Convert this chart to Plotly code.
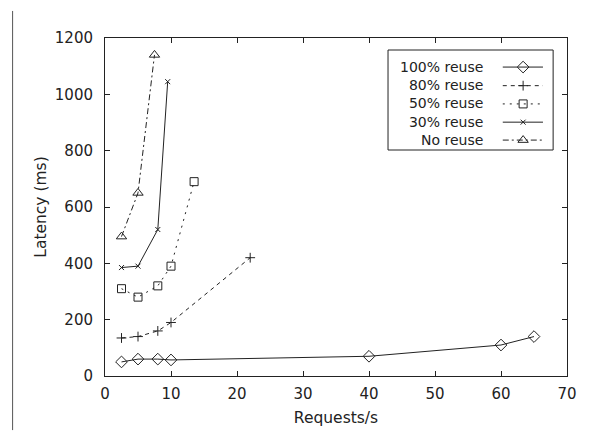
import plotly.graph_objects as go

# ---- data ----
series_names = ["100% reuse", "80% reuse", "50% reuse", "30% reuse", "No reuse"]
x_100 = [2.5, 5, 8, 10, 40, 60, 65]
y_100 = [50, 60, 60, 57, 70, 110, 140]
x_80 = [2.5, 5, 8, 10, 22]
y_80 = [135, 140, 160, 190, 420]
x_50 = [2.5, 5, 8, 10, 13.5]
y_50 = [310, 280, 320, 390, 690]
x_30 = [2.5, 5, 8, 9.5]
y_30 = [385, 390, 520, 1045]
x_no = [2.5, 5, 7.5]
y_no = [495, 650, 1140]

xs = [x_100, x_80, x_50, x_30, x_no]
ys = [y_100, y_80, y_50, y_30, y_no]
dashes = ["solid", "4px,4px", "2px,5px", "solid", "6px,3px,2px,3px"]
symbols = ["diamond-open", "cross-thin-open", "square-open", "x-thin-open", "triangle-up-open"]
msizes = [9, 7, 8, 5, 9]

INK = "#222222"
FONT = "DejaVu Sans"

fig = go.Figure()
for name, xv, yv, d, s, ms in zip(series_names, xs, ys, dashes, symbols, msizes):
    fig.add_trace(go.Scatter(
        x=xv, y=yv, mode="lines+markers", name=name, showlegend=False,
        line=dict(color=INK, width=1, dash=d),
        marker=dict(symbol=s, size=ms, color=INK, line=dict(color=INK, width=1)),
    ))

# ---- custom legend (text right-aligned, sample on the right) ----
row_y = [0.914, 0.859, 0.805, 0.751, 0.698]
for name, d, s, ms, ry in zip(series_names, dashes, symbols, msizes, row_y):
    fig.add_trace(go.Scatter(
        x=[0.861, 0.948], y=[ry, ry], mode="lines", xaxis="x2", yaxis="y2",
        showlegend=False, hoverinfo="skip",
        line=dict(color=INK, width=1, dash=d)))
    fig.add_trace(go.Scatter(
        x=[0.905], y=[ry], mode="markers", xaxis="x2", yaxis="y2",
        showlegend=False, hoverinfo="skip",
        marker=dict(symbol=s, size=ms, color=INK, line=dict(color=INK, width=1))))

fig.add_annotation(x=0.8225, y=0.806, xref="x2", yref="y2",
                   text="<br>".join(series_names), align="right",
                   showarrow=False, xanchor="right", yanchor="middle",
                   font=dict(family=FONT, size=14, color=INK))

fig.add_shape(type="rect", xref="x2", yref="y2", x0=0.6126, x1=0.970, y0=0.6686, y1=0.9645,
              line=dict(color=INK, width=1), fillcolor="rgba(0,0,0,0)")

# scan artefact: left vertical rule
fig.add_shape(type="line", xref="paper", yref="paper", x0=-0.2, x1=-0.2, y0=-0.16, y1=1.08,
              line=dict(color="#555555", width=1))

axis_common = dict(showgrid=False, zeroline=False, showline=True, linecolor=INK, linewidth=1,
                   mirror="ticks", ticks="inside", ticklen=5, tickcolor=INK,
                   tickfont=dict(family=FONT, size=15, color=INK))

fig.update_layout(
    width=592, height=440,
    margin=dict(l=105, r=25, t=38, b=64),
    paper_bgcolor="white", plot_bgcolor="white",
    xaxis=dict(range=[0, 70], dtick=10, ticklabelstandoff=4,
               title=dict(text="Requests/s", standoff=10,
                          font=dict(family=FONT, size=15.5, color=INK)), **axis_common),
    yaxis=dict(range=[0, 1200], dtick=200, ticklabelstandoff=8,
               title=dict(text="Latency (ms)", standoff=4,
                          font=dict(family=FONT, size=15.5, color=INK)), **axis_common),
    xaxis2=dict(overlaying="x", range=[0, 1], visible=False),
    yaxis2=dict(overlaying="y", range=[0, 1], visible=False),
    font=dict(family=FONT, color=INK),
)

fig.write_html("out.html")
